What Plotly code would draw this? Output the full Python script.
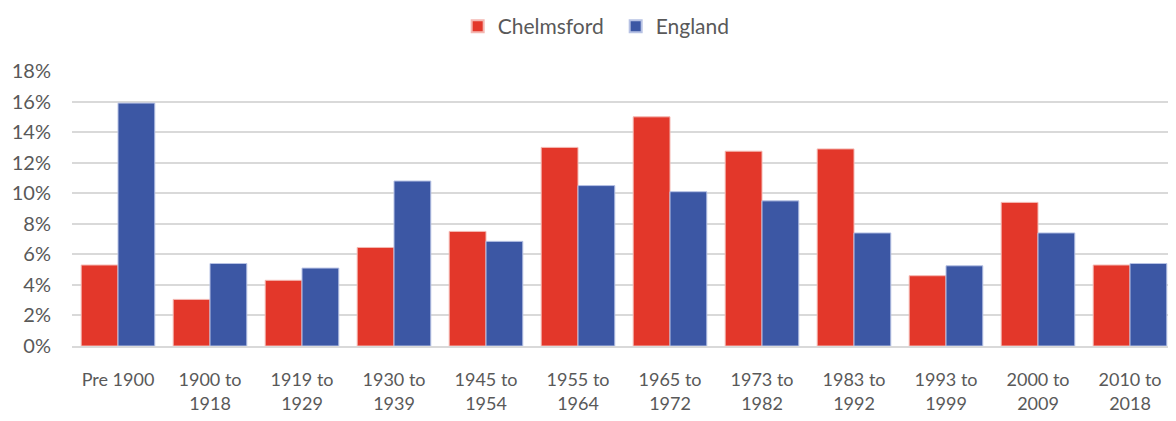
import plotly.graph_objects as go

categories = ["Pre 1900", "1900 to<br>1918", "1919 to<br>1929", "1930 to<br>1939", "1945 to<br>1954",
              "1955 to<br>1964", "1965 to<br>1972", "1973 to<br>1982", "1983 to<br>1992",
              "1993 to<br>1999", "2000 to<br>2009", "2010 to<br>2018"]
chelmsford = [5.3, 3.05, 4.3, 6.45, 7.5, 13.0, 15.0, 12.75, 12.9, 4.6, 9.4, 5.3]
england = [15.9, 5.4, 5.1, 10.8, 6.85, 10.5, 10.1, 9.5, 7.4, 5.25, 7.4, 5.4]
tick_vals = [0, 2, 4, 6, 8, 10, 12, 14, 16, 18]
tick_text = [f"{v}%" for v in tick_vals]

RED = "#E3372A"
BLUE = "#3C57A4"
TXT = "#595959"
GRID = "#D9D9D9"

fig = go.Figure()
fig.add_bar(name="Chelmsford", x=categories, y=chelmsford, marker=dict(color=RED, line=dict(color="#F4B8B2", width=1)))
fig.add_bar(name="England", x=categories, y=england, marker=dict(color=BLUE, line=dict(color="#B7C2E4", width=1)))

# page body has an 8px default margin, so the figure is sized to fit the window
fig.update_layout(
    width=1168, height=413,
    margin=dict(l=64, r=0, t=63, b=75),
    paper_bgcolor="white", plot_bgcolor="white",
    barmode="group", bargap=0.2, bargroupgap=0,
    font=dict(family="Lato, Open Sans, sans-serif", size=19, color=TXT),
    showlegend=True,
    legend=dict(orientation="h", xref="container", yref="container", x=0.385, xanchor="left",
                y=0.955, yanchor="middle", font=dict(size=21, color=TXT), itemsizing="constant",
                traceorder="normal", entrywidth=113, entrywidthmode="pixels"),
    xaxis=dict(showgrid=False, showline=True, linecolor=GRID, linewidth=1.5, ticks="",
               ticklabelstandoff=17, tickfont=dict(size=18, color=TXT)),
    yaxis=dict(range=[0, 18], tickvals=tick_vals, ticktext=tick_text, showgrid=True,
               gridcolor=GRID, gridwidth=1.5, zeroline=False, showline=False,
               ticklabelstandoff=20, tickfont=dict(size=20, color=TXT)),
)

fig.write_html("out.html")
